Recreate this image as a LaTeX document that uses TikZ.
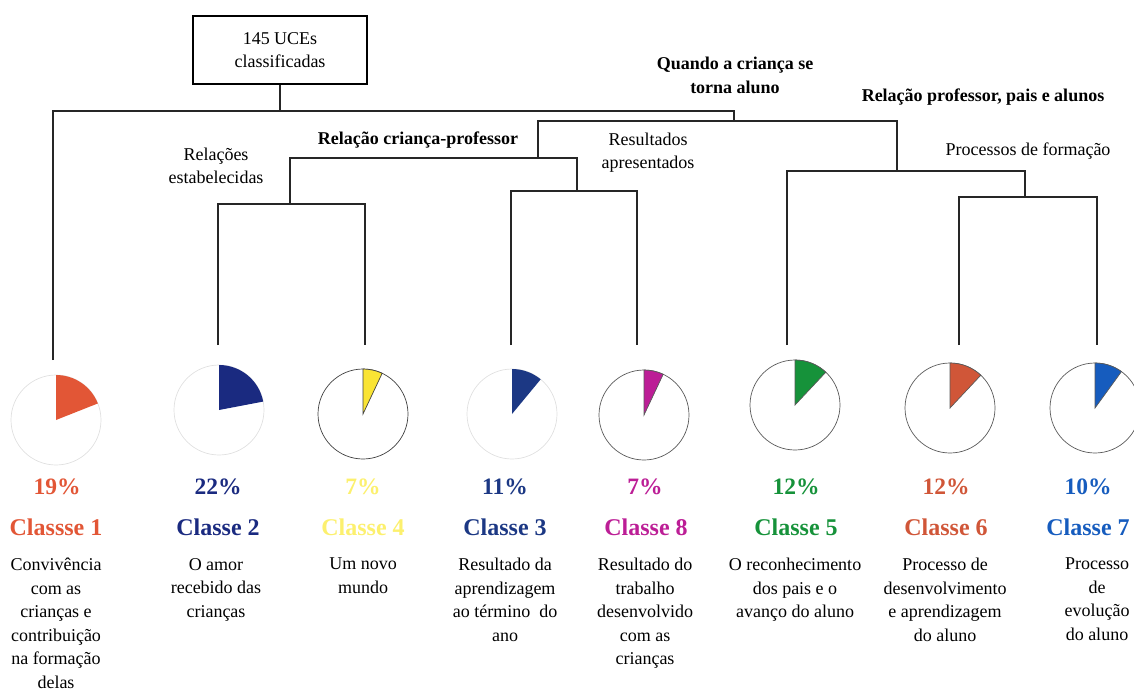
\documentclass[tikz,border=0pt]{standalone}
\usepackage{fontspec}
\setmainfont{Liberation Serif}
\usepackage{tikz}
\definecolor{cor1}{RGB}{226,86,54}
\definecolor{cor2}{RGB}{26,42,128}
\definecolor{cor3}{RGB}{28,56,132}
\definecolor{cor4}{RGB}{250,228,52}
\definecolor{cor4txt}{RGB}{252,240,110}
\definecolor{cor5}{RGB}{22,146,58}
\definecolor{cor6}{RGB}{208,86,56}
\definecolor{cor7}{RGB}{22,92,190}
\definecolor{cor8}{RGB}{188,30,150}

\begin{document}
\begin{tikzpicture}
            [every node/.style={inner sep=0pt},
             tree/.style={line width=1.8pt, color=black!85},
             pie/.style={circle, minimum size=90pt, line width=0.7pt},
             pct/.style={font=\fontsize{23.5}{25}\selectfont\bfseries},
             cls/.style={font=\fontsize{24}{26}\selectfont\bfseries},
             desc/.style={anchor=north, align=center, font=\fontsize{18}{23.5}\selectfont},
             lbl/.style={align=center, font=\fontsize{18}{23}\selectfont},
             lblb/.style={align=center, font=\fontsize{18}{24}\selectfont\bfseries}]
                \useasboundingbox (0pt, 0pt) rectangle (1134pt, -693pt);
                \node (root) [draw=black, line width=1.6pt, minimum width=174pt, minimum height=68pt, align=center, font=\fontsize{18}{23}\selectfont] at (280pt, -50pt) {145 UCEs\\classificadas};
                \coordinate (j0) at (280pt, -111pt);
                \coordinate (j1) at (734pt, -121pt);
                \coordinate (j2) at (538pt, -158pt);
                \coordinate (j3) at (290pt, -204pt);
                \coordinate (j4) at (577pt, -191pt);
                \coordinate (j5) at (897pt, -171pt);
                \coordinate (j6) at (1025pt, -197pt);
                \coordinate (l1) at (53pt, -360pt);
                \coordinate (l2) at (218pt, -345pt);
                \coordinate (l4) at (365pt, -345pt);
                \coordinate (l3) at (511pt, -345pt);
                \coordinate (l8) at (637pt, -345pt);
                \coordinate (l5) at (787pt, -345pt);
                \coordinate (l6) at (959pt, -345pt);
                \coordinate (l7) at (1097pt, -345pt);
                \draw [tree] (root) -- (j0);
                \draw [tree] (l1) |- (j0) -| (j1);
                \draw [tree] (j2) |- (j1) -| (j5);
                \draw [tree] (j3) |- (j2) -| (j4);
                \draw [tree] (l2) |- (j3) -| (l4);
                \draw [tree] (l3) |- (j4) -| (l8);
                \draw [tree] (l5) |- (j5) -| (j6);
                \draw [tree] (l6) |- (j6) -| (l7);
                \node (a1) [lblb] at (735pt, -75pt) {Quando a criança se\\torna aluno};
                \node (a2) [lblb] at (983pt, -97pt) {Relação professor, pais e alunos};
                \node (a3) [lblb] at (418pt, -140pt) {Relação criança-professor};
                \node (a4) [lbl] at (216pt, -166pt) {Relações\\estabelecidas};
                \node (a5) [lbl] at (648pt, -153pt) {Resultados\\apresentados};
                \node (a6) [lbl] at (1028pt, -151pt) {Processos de formação};
                \node (p1) [pie, draw=black!12] at (56pt, -420pt) {};
                \node (p2) [pie, draw=black!12] at (219pt, -410pt) {};
                \node (p4) [pie, draw=black!75] at (363pt, -414pt) {};
                \node (p3) [pie, draw=black!12] at (512pt, -414pt) {};
                \node (p8) [pie, draw=black!65] at (644pt, -415pt) {};
                \node (p5) [pie, draw=black!65] at (795pt, -405pt) {};
                \node (p6) [pie, draw=black!65] at (950pt, -408pt) {};
                \node (p7) [pie, draw=black!65] at (1095pt, -408pt) {};
                \fill [cor1] (p1.center) -- ++(90:45pt) arc [start angle=90, end angle=21.6, radius=45pt] -- cycle;
                \fill [cor2] (p2.center) -- ++(90:45pt) arc [start angle=90, end angle=10.8, radius=45pt] -- cycle;
                \filldraw [fill=cor4, draw=black!75, line width=0.7pt] (p4.center) -- ++(90:45pt) arc [start angle=90, end angle=64.8, radius=45pt] -- cycle;
                \fill [cor3] (p3.center) -- ++(90:45pt) arc [start angle=90, end angle=50.4, radius=45pt] -- cycle;
                \filldraw [fill=cor8, draw=black!65, line width=0.7pt] (p8.center) -- ++(90:45pt) arc [start angle=90, end angle=64.8, radius=45pt] -- cycle;
                \filldraw [fill=cor5, draw=black!65, line width=0.7pt] (p5.center) -- ++(90:45pt) arc [start angle=90, end angle=46.8, radius=45pt] -- cycle;
                \filldraw [fill=cor6, draw=black!65, line width=0.7pt] (p6.center) -- ++(90:45pt) arc [start angle=90, end angle=46.8, radius=45pt] -- cycle;
                \filldraw [fill=cor7, draw=black!65, line width=0.7pt] (p7.center) -- ++(90:45pt) arc [start angle=90, end angle=54, radius=45pt] -- cycle;
                \node (n1) [pct, text=cor1] at (57pt, -487pt) {19\%};
                \node (n2) [pct, text=cor2] at (218pt, -487pt) {22\%};
                \node (n4) [pct, text=cor4txt] at (363pt, -487pt) {7\%};
                \node (n3) [pct, text=cor3] at (505pt, -487pt) {11\%};
                \node (n8) [pct, text=cor8] at (645pt, -487pt) {7\%};
                \node (n5) [pct, text=cor5] at (796pt, -487pt) {12\%};
                \node (n6) [pct, text=cor6] at (946pt, -487pt) {12\%};
                \node (n7) [pct, text=cor7] at (1088pt, -487pt) {10\%};
                \node (t1) [cls, text=cor1] at (56pt, -527pt) {Classse 1};
                \node (t2) [cls, text=cor2] at (218pt, -527pt) {Classe 2};
                \node (t4) [cls, text=cor4txt] at (363pt, -527pt) {Classe 4};
                \node (t3) [cls, text=cor3] at (505pt, -527pt) {Classe 3};
                \node (t8) [cls, text=cor8] at (646pt, -527pt) {Classe 8};
                \node (t5) [cls, text=cor5] at (796pt, -527pt) {Classe 5};
                \node (t6) [cls, text=cor6] at (946pt, -527pt) {Classe 6};
                \node (t7) [cls, text=cor7] at (1088pt, -527pt) {Classe 7};
                \node (d1) [desc] at (56pt, -558pt) {Convivência\\com as\\crianças e\\contribuição\\na formação\\delas};
                \node (d2) [desc] at (216pt, -558pt) {O amor\\recebido das\\crianças};
                \node (d4) [desc] at (363pt, -558pt) {Um novo\\mundo};
                \node (d3) [desc] at (505pt, -558pt) {Resultado da\\aprendizagem\\ao término\ \ do\\ano};
                \node (d8) [desc] at (645pt, -558pt) {Resultado do\\trabalho\\desenvolvido\\com as\\crianças};
                \node (d5) [desc] at (795pt, -558pt) {O reconhecimento\\dos pais e o\\avanço do aluno};
                \node (d6) [desc] at (945pt, -558pt) {Processo de\\desenvolvimento\\e aprendizagem\\do aluno};
                \node (d7) [desc] at (1097pt, -558pt) {Processo\\de\\evolução\\do aluno};
            \end{tikzpicture}
\end{document}
